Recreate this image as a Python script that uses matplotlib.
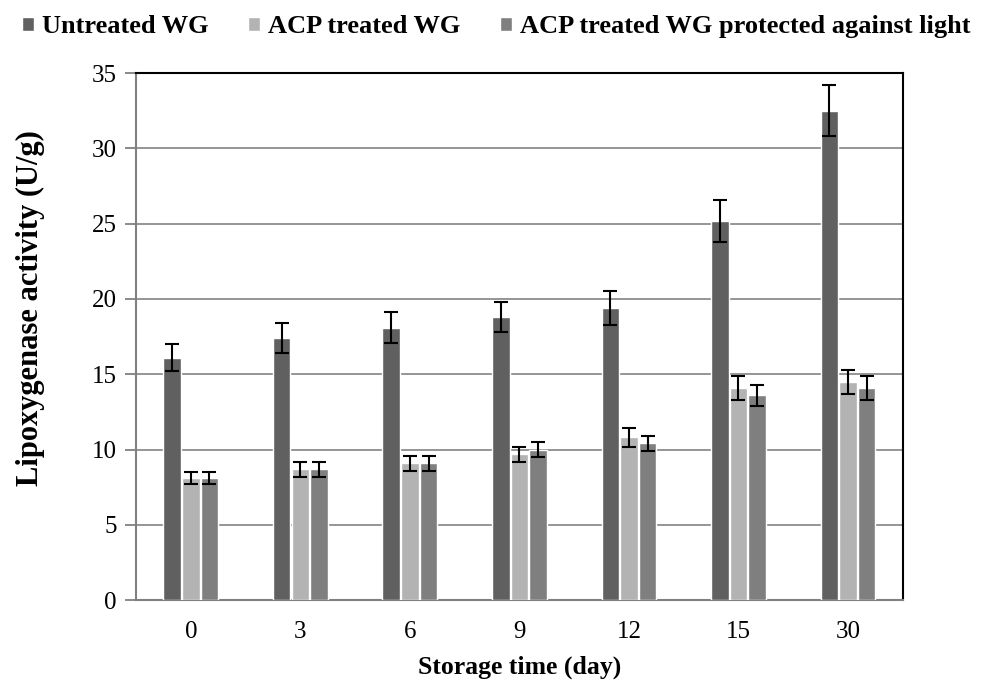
import numpy as np
import matplotlib
matplotlib.use('Agg')
import matplotlib.pyplot as plt

plt.rcParams['font.family'] = ['Liberation Serif', 'DejaVu Serif']

days = ['0', '3', '6', '9', '12', '15', '30']
series = ['Untreated WG', 'ACP treated WG', 'ACP treated WG protected against light']
untreated = [16.1, 17.4, 18.1, 18.8, 19.4, 25.2, 32.5]
untreated_err = [0.9, 1.0, 1.0, 1.0, 1.1, 1.4, 1.7]
acp = [8.1, 8.7, 9.1, 9.7, 10.8, 14.1, 14.5]
acp_err = [0.4, 0.5, 0.5, 0.5, 0.6, 0.8, 0.8]
protected = [8.1, 8.7, 9.1, 10.0, 10.4, 13.6, 14.1]
protected_err = [0.4, 0.5, 0.5, 0.5, 0.5, 0.7, 0.8]
colors = ['#606060', '#b3b3b3', '#7f7f7f']

fig = plt.figure(figsize=(9.83, 6.89), dpi=100)
ax = fig.add_axes([0.1384, 0.129, 0.780, 0.765])

x = np.arange(len(days))
w = 0.16
step = 0.17
for i, (vals, errs) in enumerate([(untreated, untreated_err), (acp, acp_err), (protected, protected_err)]):
    ax.bar(x + (i - 1) * step, vals, w, color=colors[i], edgecolor='white', linewidth=1.0,
           label=series[i], zorder=3,
           yerr=errs, error_kw=dict(ecolor='black', elinewidth=1.5, capsize=5, capthick=1.5, zorder=4))

ax.set_xlim(-0.5, len(days) - 0.5)
ax.set_ylim(0, 35)
ax.set_yticks(np.arange(0, 36, 5))
ax.set_xticks(x)
ax.set_xticklabels(days)
ax.yaxis.grid(True, color='#8c8c8c', linewidth=1.3, zorder=0)
ax.set_axisbelow(True)

ax.spines['left'].set_color('#808080')
ax.spines['left'].set_linewidth(1.5)
ax.spines['bottom'].set_color('#808080')
ax.spines['bottom'].set_linewidth(1.5)
ax.spines['top'].set_color('black')
ax.spines['top'].set_linewidth(1.5)
ax.spines['right'].set_color('black')
ax.spines['right'].set_linewidth(1.5)

ax.tick_params(axis='y', length=8, width=1.3, color='#808080', labelsize=18, pad=6)
ax.tick_params(axis='x', length=0, labelsize=18, pad=15)

ax.set_ylabel('Lipoxygenase activity (U/g)', fontsize=22, fontweight='bold')
ax.yaxis.set_label_coords(-0.119, 0.554)
ax.set_xlabel('Storage time (day)', fontsize=18.5, fontweight='bold', labelpad=9)

fig.legend(loc='upper center', bbox_to_anchor=(0.505, 1.012), ncol=3, frameon=False,
           prop={'weight': 'bold', 'size': 19}, handlelength=0.45, handleheight=0.45,
           handletextpad=0.3, columnspacing=1.5)

fig.savefig('out.png', dpi=100)
